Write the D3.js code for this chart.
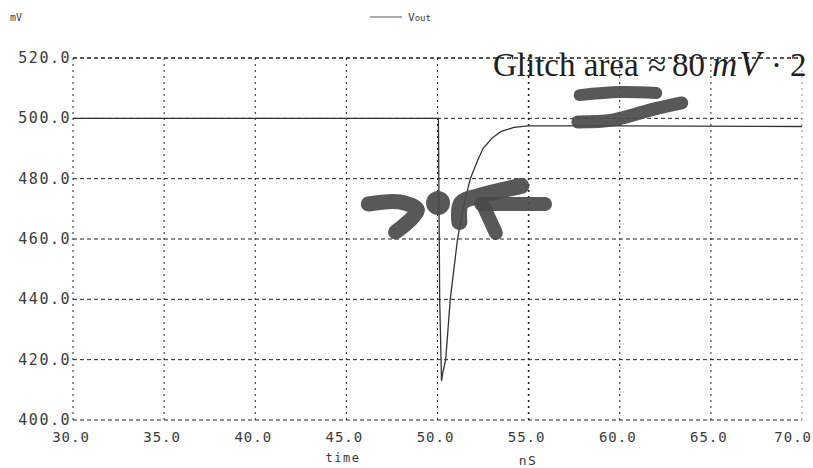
<!DOCTYPE html>
<html>
<head>
<meta charset="utf-8">
<script src="https://cdn.jsdelivr.net/npm/d3@7"></script>
<style>
  body { margin: 0; background: #fff; }
  svg { display: block; }
  .tick-label { font-family: "DejaVu Sans Mono", monospace; font-size: 15px; fill: #3a3a3a; letter-spacing: 1.5px; }
</style>
</head>
<body>
<div id="chart"></div>
<script>
// Vout trace, time in nS, voltage in mV
var timeNs = [30, 50.05, 50.12, 50.22, 50.3, 50.45, 50.7, 51.1, 51.4, 51.8, 52.2, 52.5, 53.0, 53.5, 54.2, 55.0, 60, 70];
var voutMv = [500, 500, 440, 413, 416, 420, 440, 460, 470, 480, 486, 490, 493.5, 495.7, 497, 497.5, 497.5, 497.3];

var xTicks = [30, 35, 40, 45, 50, 55, 60, 65, 70];
var yTicks = [400, 420, 440, 460, 480, 500, 520];

// hand-drawn marker strokes on the scan, in data units
var strokeTop = [[57.8, 507.7], [60.0, 508.7], [62.0, 508.4]];
var strokeBottom = [[57.7, 498.8], [59.6, 499.4], [61.7, 502.8], [63.4, 505.1]];
var arrowLeft = [[46.2, 471.6], [47.9, 472.3], [48.9, 469.6], [47.7, 462.3]];
var arrowRightA = [[51.2, 465.6], [51.3, 471.9], [52.3, 474.3], [54.6, 477.6]];
var arrowRightB = [[52.4, 471.6], [55.9, 471.6]];
var arrowRightC = [[52.55, 470.6], [53.2, 462.0]];
var dotCenter = [50.03, 471.9];

function init() {
    var w = 813;
    var h = 468;
    var left = 73, right = 802, top = 58, bottom = 420;

    var svg = d3.select("#chart").append("svg")
        .attr("width", w)
        .attr("height", h);

    var x = d3.scaleLinear().domain([30, 70]).range([left, right]);
    var y = d3.scaleLinear().domain([400, 520]).range([bottom, top]);

    // grid
    svg.append("g").selectAll("line.h")
        .data(yTicks)
        .enter().append("line")
        .attr("x1", left).attr("x2", right)
        .attr("y1", d => y(d)).attr("y2", d => y(d))
        .attr("stroke", "#222")
        .attr("stroke-width", d => d === 520 ? 1.6 : 1)
        .attr("stroke-dasharray", "4,3");

    svg.append("g").selectAll("line.v")
        .data(xTicks)
        .enter().append("line")
        .attr("x1", d => x(d)).attr("x2", d => x(d))
        .attr("y1", top).attr("y2", bottom)
        .attr("stroke", d => d === 70 ? "#999" : "#222")
        .attr("stroke-width", d => d === 55 ? 1.6 : 1)
        .attr("stroke-dasharray", "2,4");

    // tick labels
    svg.append("g").selectAll("text")
        .data(yTicks)
        .enter().append("text")
        .attr("class", "tick-label")
        .attr("x", left - 2)
        .attr("y", d => y(d) + 5)
        .attr("text-anchor", "end")
        .text(d => d.toFixed(1));

    svg.append("g").selectAll("text")
        .data(xTicks)
        .enter().append("text")
        .attr("class", "tick-label")
        .style("font-size", "14px")
        .style("letter-spacing", "1px")
        .attr("x", d => d === 70 ? w - 1 : x(d) - 2)
        .attr("y", bottom + 22)
        .attr("text-anchor", d => d === 70 ? "end" : "middle")
        .text(d => d.toFixed(1));

    svg.append("text").attr("class", "tick-label").style("font-size", "12px")
        .attr("x", 343).attr("y", 462).attr("text-anchor", "middle").text("time");
    svg.append("text").attr("class", "tick-label").style("font-size", "13px")
        .attr("x", 528).attr("y", 465).attr("text-anchor", "middle").text("nS");

    svg.append("text").attr("class", "tick-label").style("font-size", "10px")
        .style("letter-spacing", "0px")
        .attr("x", 10).attr("y", 21).text("mV");

    // legend
    svg.append("line").attr("x1", 370).attr("x2", 402).attr("y1", 17).attr("y2", 17)
        .attr("stroke", "#555").attr("stroke-width", 1);
    var leg = svg.append("text").attr("class", "tick-label").style("font-size", "11px")
        .style("letter-spacing", "0px").attr("x", 408).attr("y", 21);
    leg.append("tspan").text("V");
    leg.append("tspan").style("font-size", "9px").text("out");

    // trace
    var line = d3.line().x(d => x(d[0])).y(d => y(d[1]));
    svg.append("path")
        .datum(d3.zip(timeNs, voutMv))
        .attr("d", line)
        .attr("fill", "none")
        .attr("stroke", "#333")
        .attr("stroke-width", 1.3);

    // handwritten note
    var note = svg.append("text")
        .attr("y", 76)
        .style("font-family", "Liberation Serif, serif")
        .style("font-size", "33px")
        .attr("fill", "#1e1e1e");
    note.append("tspan").attr("x", 493).text("Glitch area");
    note.append("tspan").attr("x", 648).text("\u2248");
    note.append("tspan").attr("x", 672).text("80");
    note.append("tspan").attr("x", 712).style("font-style", "italic")
        .style("font-size", "35px").style("letter-spacing", "2px").text("mV");
    note.append("tspan").attr("x", 771).text("\u00b7");
    note.append("tspan").attr("x", 790).text("2");

    // marker strokes
    var curve = d3.line().x(d => x(d[0])).y(d => y(d[1])).curve(d3.curveCatmullRom);
    var marks = svg.append("g")
        .attr("fill", "none")
        .attr("stroke", "#4a4a4a")
        .attr("stroke-opacity", 0.92)
        .attr("stroke-linecap", "round")
        .attr("stroke-linejoin", "round");
    marks.append("path").attr("d", curve(strokeTop)).attr("stroke-width", 12);
    marks.append("path").attr("d", curve(strokeBottom)).attr("stroke-width", 13);
    marks.append("path").attr("d", curve(arrowLeft)).attr("stroke-width", 15);
    marks.append("path").attr("d", curve(arrowRightA)).attr("stroke-width", 16);
    marks.append("path").attr("d", curve(arrowRightB)).attr("stroke-width", 14);
    marks.append("path").attr("d", curve(arrowRightC)).attr("stroke-width", 14);
    svg.append("circle")
        .attr("cx", x(dotCenter[0])).attr("cy", y(dotCenter[1])).attr("r", 12)
        .attr("fill", "#4a4a4a").attr("fill-opacity", 0.92);
}

window.onload = init;
</script>
</body>
</html>
